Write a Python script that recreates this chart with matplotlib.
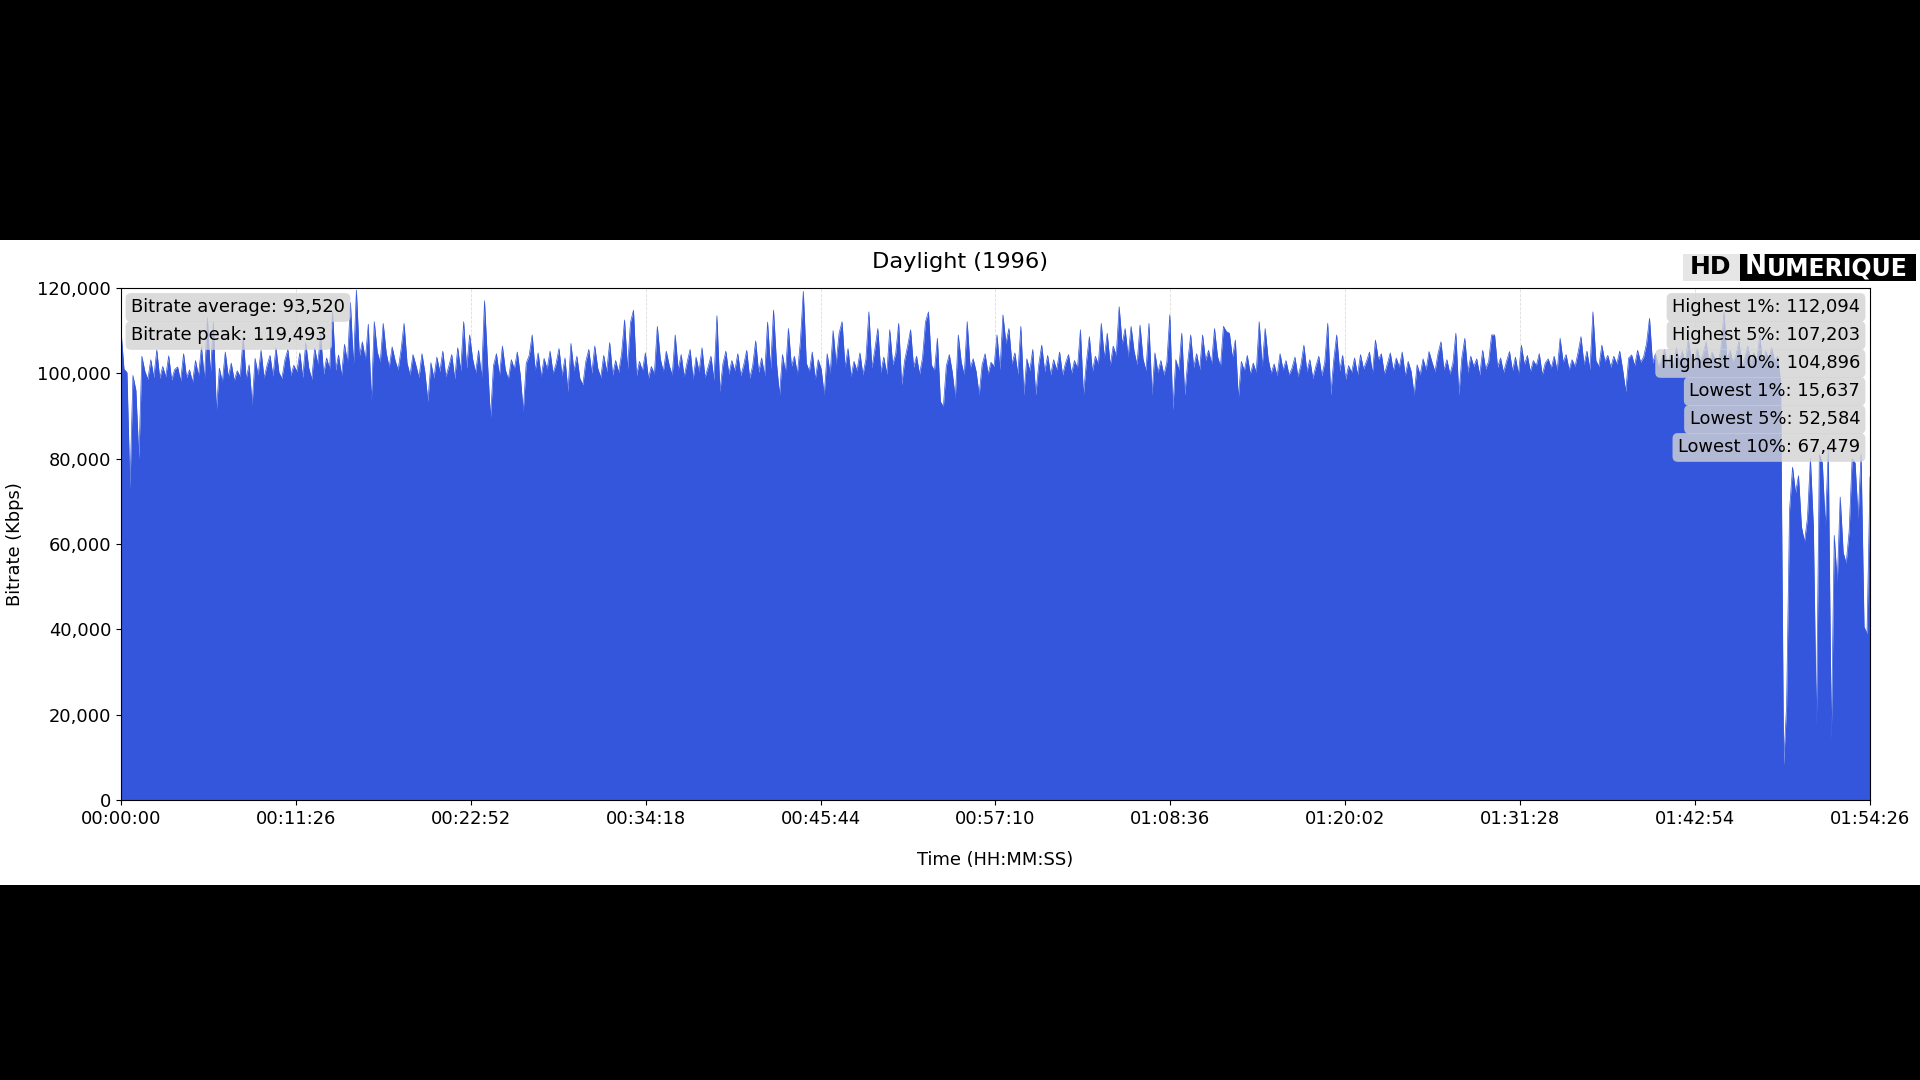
import numpy as np
import matplotlib
matplotlib.use('Agg')
import matplotlib.pyplot as plt
from matplotlib.patches import Rectangle
from matplotlib.ticker import FuncFormatter

# Назва фільму та тривалість (секунди)
title = "Daylight (1996)"
duration = 6866  # 01:54:26

# Мітки осі часу
time_labels = ["00:00:00", "00:11:26", "00:22:52", "00:34:18", "00:45:44", "00:57:10",
               "01:08:36", "01:20:02", "01:31:28", "01:42:54", "01:54:26"]

# Статистика (Kbps)
left_names = ["Bitrate average", "Bitrate peak"]
left_values = [93520, 119493]
right_names = ["Highest 1%", "Highest 5%", "Highest 10%", "Lowest 1%", "Lowest 5%", "Lowest 10%"]
right_values = [112094, 107203, 104896, 15637, 52584, 67479]

# Бітрейт у тисячах Kbps, зчитаний з графіка по ділянках
bitrate_part1 = [
    110.0, 101.0, 100.2, 73.0, 99.5, 96.0, 80.0, 104.0, 100.5, 98.6, 103.2, 99.0, 105.5, 98.8, 101.6, 99.2, 104.1, 98.4, 100.9,
    101.5, 98.2, 104.6, 99.0, 100.8, 97.9, 103.0, 99.4, 106.2, 98.6, 113.0, 99.8, 112.0, 91.2, 101.2, 98.0, 105.0, 99.1, 102.4, 98.3,
    100.6, 99.2, 108.6, 98.7, 102.0, 92.6, 103.5, 99.6, 105.4, 98.9, 101.8, 104.2, 99.3, 106.0, 100.2, 98.8, 103.1, 105.6, 99.5, 101.9,
    100.4, 104.8, 99.0, 107.2, 101.3, 98.6, 105.9, 102.2, 109.0, 99.8, 103.6, 101.0, 114.4, 100.7, 104.3, 99.4, 106.8, 102.5, 116.6, 101.8,
    119.5, 104.0, 107.4, 103.2, 111.5, 93.4, 112.1, 105.0, 102.6, 111.7, 104.8, 101.4, 106.2, 103.0, 100.8, 105.6, 111.7, 102.4, 99.6, 104.4,
    101.8, 99.0, 104.6, 100.2, 93.4, 102.5, 98.9, 103.8, 100.4, 105.2, 99.2, 101.6, 104.4, 98.7, 106.0, 100.6, 112.1, 101.2, 109.0, 103.4,
    100.2, 105.4, 99.0, 117.0, 102.6, 89.5, 101.8, 104.6, 99.4, 106.4, 100.8, 98.6, 103.2, 101.0, 105.0, 99.6, 91.0, 102.4, 104.2, 109.0,
    100.6, 104.8, 99.2, 103.5, 101.0, 105.2, 100.0,
]
bitrate_part2 = [
    102.2, 105.8, 99.4, 103.6, 95.7, 107.0, 100.6, 104.0, 98.8, 97.3, 102.8, 105.6, 100.0, 106.4, 101.2, 99.0, 104.2, 100.4, 107.2, 99.6,
    103.0, 100.2, 104.6, 112.5, 101.0, 112.0, 114.8, 99.4, 102.8, 100.6, 104.8, 98.8, 101.6, 99.8, 111.0, 103.4, 100.4, 105.2, 101.8, 99.6,
    109.0, 100.8, 104.4, 99.2, 102.6, 105.6, 98.6, 103.8, 100.4, 106.0, 99.0, 101.4, 104.0, 98.4, 113.5, 95.7, 102.2, 105.2, 99.8, 103.0,
    100.6, 104.6, 99.4, 102.0, 105.4, 98.8, 101.8, 107.6, 100.2, 103.6, 99.4, 112.0, 101.0, 114.8, 102.4, 94.9, 104.4, 100.2, 110.5, 101.6,
    104.0, 99.8, 107.4, 119.2, 102.4, 100.4, 105.0, 98.6, 103.2, 101.0, 94.9, 104.6, 100.0, 110.0, 102.2, 109.4, 112.1, 101.4, 105.8, 99.2,
    102.8, 100.6, 104.8, 99.6, 103.4, 114.4, 101.2, 105.6, 110.5, 100.2, 103.8, 99.8, 110.2, 102.0, 104.6, 111.7, 97.3, 103.0, 106.4, 110.2,
    101.4, 104.0, 99.8, 103.6, 112.1, 114.4, 102.0, 100.6, 108.2, 93.4, 92.2, 101.8, 104.4, 100.2, 94.1, 109.0, 102.6, 99.6, 112.1, 101.2,
    103.4, 100.4, 94.9, 102.0, 104.6, 99.8, 102.6,
]
bitrate_part3 = [
    101.6, 109.0, 100.8, 113.7, 107.0, 110.5, 102.2, 104.8, 99.8, 111.0, 94.9, 103.4, 100.6, 105.6, 94.9, 102.0, 106.6, 100.4, 104.2, 99.6,
    103.2, 100.8, 105.0, 99.6, 102.4, 104.4, 100.0, 103.0, 101.2, 110.2, 94.9, 102.6, 108.6, 100.4, 104.0, 102.2, 111.7, 103.6, 109.4, 101.8,
    106.4, 104.2, 115.6, 106.8, 110.5, 103.8, 111.0, 105.2, 102.0, 111.3, 103.4, 100.6, 111.7, 94.9, 104.8, 100.2, 103.0, 99.6, 102.6, 113.7,
    91.4, 103.2, 100.8, 109.4, 94.9, 102.6, 109.0, 101.4, 104.6, 100.8, 109.0, 103.0, 105.4, 102.2, 110.5, 104.0, 101.6, 111.0, 109.8, 109.4,
    103.6, 107.8, 94.1, 102.8, 100.6, 104.2, 99.8, 102.4, 100.2, 112.1, 101.6, 110.5, 103.4, 100.0, 102.2, 99.4, 104.6, 100.8, 103.0, 99.6,
    101.2, 103.8, 99.2, 102.0, 106.6, 100.4, 103.2, 98.8, 101.6, 104.0, 99.4, 102.6, 111.7, 94.9, 103.0, 109.0, 100.6, 104.2, 98.6, 101.8,
    100.2, 103.6, 99.6, 104.4, 101.0, 102.8, 105.0, 100.0, 107.8, 103.2, 104.6, 99.8, 102.2, 104.8, 100.6, 103.6, 101.4, 105.0, 99.4, 102.8,
    100.4, 94.9, 102.0, 99.6, 103.4, 100.8, 105.1,
]
bitrate_part4 = [
    102.6, 100.4, 104.6, 107.4, 100.8, 103.2, 99.8, 102.4, 109.4, 94.9, 103.6, 108.2, 100.2, 104.0, 101.6, 103.4, 99.6, 105.4, 101.0, 102.8,
    109.0, 109.0, 101.4, 103.6, 100.2, 102.8, 105.1, 100.6, 103.8, 99.8, 106.6, 102.0, 104.2, 100.4, 103.0, 101.8, 104.6, 99.6, 102.4, 103.4,
    101.2, 104.0, 100.6, 108.2, 102.6, 104.4, 100.8, 103.2, 101.6, 104.8, 108.6, 102.0, 105.2, 100.8, 114.4, 103.0, 101.6, 106.6, 102.8, 104.2,
    101.4, 104.0, 102.2, 105.2, 100.8, 95.7, 103.6, 104.3, 101.8, 105.4, 102.6, 103.8, 107.0, 112.9, 102.4, 104.6, 101.6, 103.2, 105.6, 102.0,
    104.4, 101.8, 106.0, 103.0, 105.2, 102.4, 108.0, 103.6, 101.6, 105.8, 102.8, 104.6, 107.4, 102.2, 105.0, 103.4, 101.8, 106.2, 114.4, 103.0,
    105.4, 102.6, 104.2, 107.6, 101.8, 103.8, 106.4, 102.4, 104.8, 103.0, 109.0, 101.6, 105.2, 103.4, 106.0, 102.8, 104.0,
]
# Кінцеві титри з провалами
bitrate_part5 = [
    98.0, 8.2, 22.0, 68.0, 78.0, 72.0, 76.0, 64.0, 60.5, 66.0, 80.0, 64.0, 17.0, 81.0, 79.0, 64.0,
    82.0, 14.0, 62.0, 51.0, 71.0, 58.0, 55.5, 63.0, 80.0, 79.0, 66.0, 81.0, 40.6, 39.0, 75.7,
]

# Збираємо ряд та переводимо в Kbps
bitrate = np.array(bitrate_part1 + bitrate_part2 + bitrate_part3 + bitrate_part4 + bitrate_part5) * 1000
t = np.linspace(0, duration, len(bitrate))

blue = '#3456dc'
fs = 12.9  # розмір шрифту підписів

# Полотно 1920x1080 з чорними смугами
fig = plt.figure(figsize=(19.2, 10.8), dpi=100, facecolor='black')
fig.add_artist(Rectangle((0, 195 / 1080), 1, 645 / 1080, transform=fig.transFigure,
                         facecolor='white', edgecolor='none', zorder=-1))

ax = fig.add_axes([121 / 1920, 280 / 1080, 1749 / 1920, 512 / 1080])
ax.fill_between(t, bitrate, 0, color=blue, lw=0)
ax.plot(t, bitrate, color=blue, lw=0.5)

# Осі
ax.set_xlim(0, duration)
ax.set_ylim(0, 120000)
ax.set_xticks(np.linspace(0, duration, len(time_labels)))
ax.set_xticklabels(time_labels)
ax.set_yticks(np.arange(0, 120001, 20000))
ax.yaxis.set_major_formatter(FuncFormatter(lambda v, p: f'{int(v):,}'))
ax.tick_params(labelsize=fs)
ax.grid(axis='x', linestyle='--', color='#dddddd', lw=0.6)
ax.set_axisbelow(True)

ax.set_xlabel("Time (HH:MM:SS)", fontsize=fs)
ax.xaxis.set_label_coords(0.5, -0.099)
ax.set_ylabel("Bitrate (Kbps)", fontsize=fs)
ax.yaxis.set_label_coords(-0.0555, 0.5)

# Заголовок
fig.text(0.5, 1 - 262.5 / 1080, title, ha='center', va='center', fontsize=16.2)

# Підписи статистики
box = dict(boxstyle='round,pad=0.3', facecolor='lightgray', edgecolor='none', alpha=0.8)
step = 28 / 512
for i, (name, value) in enumerate(zip(left_names, left_values)):
    ax.text(0.0057, 0.962 - i * step, f"{name}: {value:,}", transform=ax.transAxes,
            ha='left', va='center', fontsize=fs, bbox=box)
for i, (name, value) in enumerate(zip(right_names, right_values)):
    ax.text(0.9943, 0.962 - i * step, f"{name}: {value:,}", transform=ax.transAxes,
            ha='right', va='center', fontsize=fs, bbox=box)

# Логотип HD Numerique
fig.add_artist(Rectangle((1683 / 1920, 1 - 281 / 1080), 57 / 1920, 27 / 1080, transform=fig.transFigure,
                         facecolor='#e6e6e6', edgecolor='none'))
fig.add_artist(Rectangle((1740 / 1920, 1 - 281 / 1080), 176 / 1920, 27 / 1080, transform=fig.transFigure,
                         facecolor='black', edgecolor='none'))
fig.text(1711 / 1920, 1 - 267.5 / 1080, "HD", ha='center', va='center', fontsize=18,
         fontweight='heavy', color='black')
fig.text(1745 / 1920, 1 - 267.5 / 1080, "N", ha='left', va='center', fontsize=19,
         fontweight='heavy', color='white')
fig.text(1767 / 1920, 1 - 268.5 / 1080, "UMERIQUE", ha='left', va='center', fontsize=17,
         fontweight='heavy', color='white')

fig.savefig('out.png', dpi=100, facecolor='black')
